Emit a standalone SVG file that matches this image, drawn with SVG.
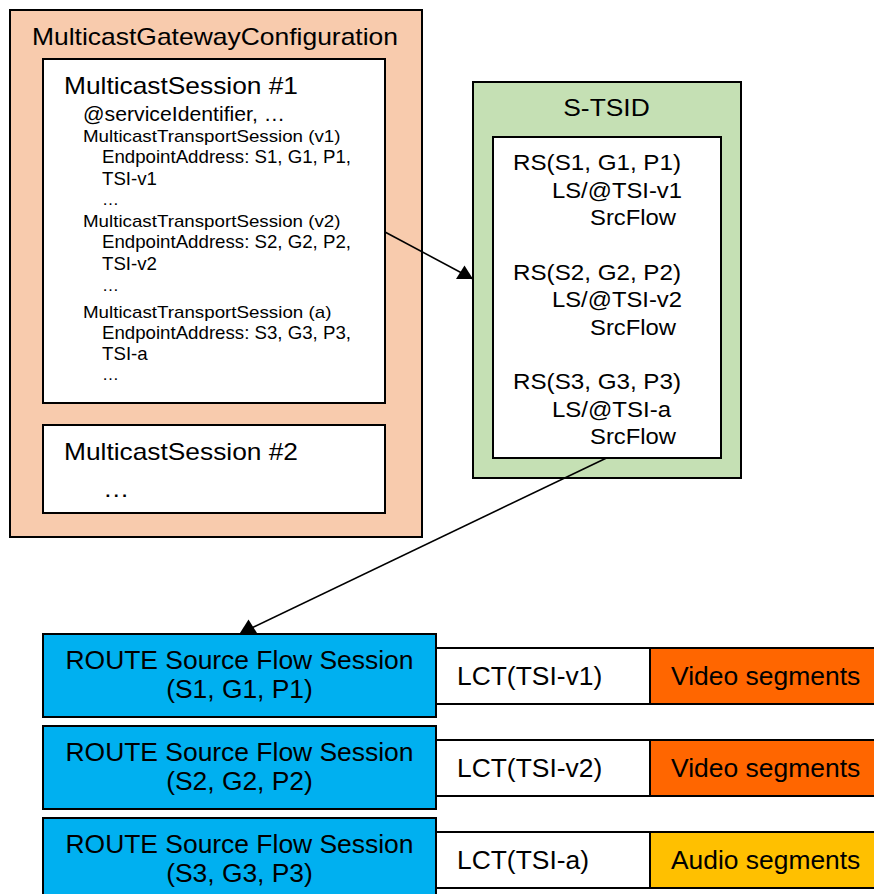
<svg xmlns="http://www.w3.org/2000/svg" xmlns:xlink="http://www.w3.org/1999/xlink" width="874" height="894" viewBox="0 0 874 894">
<style>
text{font-family:"Liberation Sans",Arial,sans-serif;fill:#000}
.lg{font-size:24px}
.bt{font-size:26px}
.md{font-size:22.5px}
.sm{font-size:17px}
.ea{font-size:19px}
.dt{font-size:17px}
.sv{font-size:19.5px}
.box{stroke:#000;stroke-width:2}
.wh{fill:#fff}
.peach{fill:#F8CBAD}
.green{fill:#C5E0B4}
.blue{fill:#00B0F0}
.video{fill:#FF6600}
.audio{fill:#FFC000}
.conn{stroke:#000;stroke-width:1.6;fill:none}
.mid{text-anchor:middle}
</style>
<defs>
<path id="tri" d="M-8.5,0 L8.5,0 L0,-13.5 Z" fill="#000"/>
</defs>
<rect width="874" height="894" fill="#fff"/>

<g id="mgc">
<rect class="box peach" x="10" y="10" width="412" height="527"/>
<text class="lg" x="32" y="45" textLength="366" lengthAdjust="spacingAndGlyphs">MulticastGatewayConfiguration</text>
</g>

<g id="session1">
<rect class="box wh" x="43" y="59" width="342" height="344"/>
<text class="lg" x="64" y="94" textLength="234" lengthAdjust="spacingAndGlyphs">MulticastSession #1</text>
<text class="sv" x="83" y="120.5" textLength="202" lengthAdjust="spacingAndGlyphs">@serviceIdentifier, …</text>
<text class="sm" x="83" y="141.7" textLength="257.5" lengthAdjust="spacingAndGlyphs">MulticastTransportSession (v1)</text>
<text class="ea" x="102" y="163.3" textLength="249" lengthAdjust="spacingAndGlyphs">EndpointAddress: S1, G1, P1,</text>
<text class="ea" x="102" y="184.5" textLength="55" lengthAdjust="spacingAndGlyphs">TSI-v1</text>
<text class="dt" x="102" y="205">…</text>
<text class="sm" x="83" y="227" textLength="257.5" lengthAdjust="spacingAndGlyphs">MulticastTransportSession (v2)</text>
<text class="ea" x="102" y="248.3" textLength="249" lengthAdjust="spacingAndGlyphs">EndpointAddress: S2, G2, P2,</text>
<text class="ea" x="102" y="269.5" textLength="55" lengthAdjust="spacingAndGlyphs">TSI-v2</text>
<text class="dt" x="102" y="291">…</text>
<text class="sm" x="83" y="317.5" textLength="248.4" lengthAdjust="spacingAndGlyphs">MulticastTransportSession (a)</text>
<text class="ea" x="102" y="339" textLength="249" lengthAdjust="spacingAndGlyphs">EndpointAddress: S3, G3, P3,</text>
<text class="ea" x="102" y="359.5" textLength="45.7" lengthAdjust="spacingAndGlyphs">TSI-a</text>
<text class="dt" x="102" y="380">…</text>
</g>

<g id="session2">
<rect class="box wh" x="43" y="425" width="342" height="88"/>
<text class="lg" x="64" y="460" textLength="234" lengthAdjust="spacingAndGlyphs">MulticastSession #2</text>
<text class="lg" x="103" y="497" textLength="26.4" lengthAdjust="spacingAndGlyphs">…</text>
</g>

<g id="stsid">
<rect class="box green" x="473" y="82" width="268" height="396"/>
<text class="lg mid" x="606.5" y="116" textLength="86.5" lengthAdjust="spacingAndGlyphs">S-TSID</text>
<rect class="box wh" x="493" y="137" width="228" height="321"/>
<text class="md" x="513" y="170" textLength="168" lengthAdjust="spacingAndGlyphs">RS(S1, G1, P1)</text>
<text class="md" x="552" y="197.5" textLength="130" lengthAdjust="spacingAndGlyphs">LS/@TSI-v1</text>
<text class="md" x="590" y="225" textLength="86" lengthAdjust="spacingAndGlyphs">SrcFlow</text>
<text class="md" x="513" y="279.5" textLength="168" lengthAdjust="spacingAndGlyphs">RS(S2, G2, P2)</text>
<text class="md" x="552" y="307" textLength="130" lengthAdjust="spacingAndGlyphs">LS/@TSI-v2</text>
<text class="md" x="590" y="334.5" textLength="86" lengthAdjust="spacingAndGlyphs">SrcFlow</text>
<text class="md" x="513" y="389" textLength="168" lengthAdjust="spacingAndGlyphs">RS(S3, G3, P3)</text>
<text class="md" x="552" y="416.5" textLength="119" lengthAdjust="spacingAndGlyphs">LS/@TSI-a</text>
<text class="md" x="590" y="444" textLength="86" lengthAdjust="spacingAndGlyphs">SrcFlow</text>
</g>

<g id="flow1">
<rect class="box blue" x="43" y="634" width="393" height="83"/>
<text class="bt mid" x="239.5" y="669" textLength="348" lengthAdjust="spacingAndGlyphs">ROUTE Source Flow Session</text>
<text class="bt mid" x="239.5" y="698" textLength="146.7" lengthAdjust="spacingAndGlyphs">(S1, G1, P1)</text>
<rect class="box wh" x="436" y="648" width="214" height="56"/>
<text class="bt" x="457" y="684.5" textLength="145.2" lengthAdjust="spacingAndGlyphs">LCT(TSI-v1)</text>
<rect class="box video" x="650" y="648" width="232" height="56"/>
<text class="bt" x="671" y="684.5" textLength="189.3" lengthAdjust="spacingAndGlyphs">Video segments</text>
</g>

<g id="flow2">
<rect class="box blue" x="43" y="726" width="393" height="83"/>
<text class="bt mid" x="239.5" y="761" textLength="348" lengthAdjust="spacingAndGlyphs">ROUTE Source Flow Session</text>
<text class="bt mid" x="239.5" y="790" textLength="146.7" lengthAdjust="spacingAndGlyphs">(S2, G2, P2)</text>
<rect class="box wh" x="436" y="740" width="214" height="56"/>
<text class="bt" x="457" y="776.5" textLength="145.2" lengthAdjust="spacingAndGlyphs">LCT(TSI-v2)</text>
<rect class="box video" x="650" y="740" width="232" height="56"/>
<text class="bt" x="671" y="776.5" textLength="189.3" lengthAdjust="spacingAndGlyphs">Video segments</text>
</g>

<g id="flow3">
<rect class="box blue" x="43" y="818" width="393" height="83"/>
<text class="bt mid" x="239.5" y="853" textLength="348" lengthAdjust="spacingAndGlyphs">ROUTE Source Flow Session</text>
<text class="bt mid" x="239.5" y="882" textLength="146.7" lengthAdjust="spacingAndGlyphs">(S3, G3, P3)</text>
<rect class="box wh" x="436" y="832" width="214" height="56"/>
<text class="bt" x="457" y="868.5" textLength="132" lengthAdjust="spacingAndGlyphs">LCT(TSI-a)</text>
<rect class="box audio" x="650" y="832" width="232" height="56"/>
<text class="bt" x="671" y="868.5" textLength="189.3" lengthAdjust="spacingAndGlyphs">Audio segments</text>
</g>

<g id="connectors">
<line class="conn" x1="385" y1="232" x2="473" y2="279"/>
<use xlink:href="#tri" x="464.5" y="279"/>
<line class="conn" x1="606.5" y1="458" x2="241" y2="633"/>
<use xlink:href="#tri" x="248.5" y="633"/>
</g>
</svg>
